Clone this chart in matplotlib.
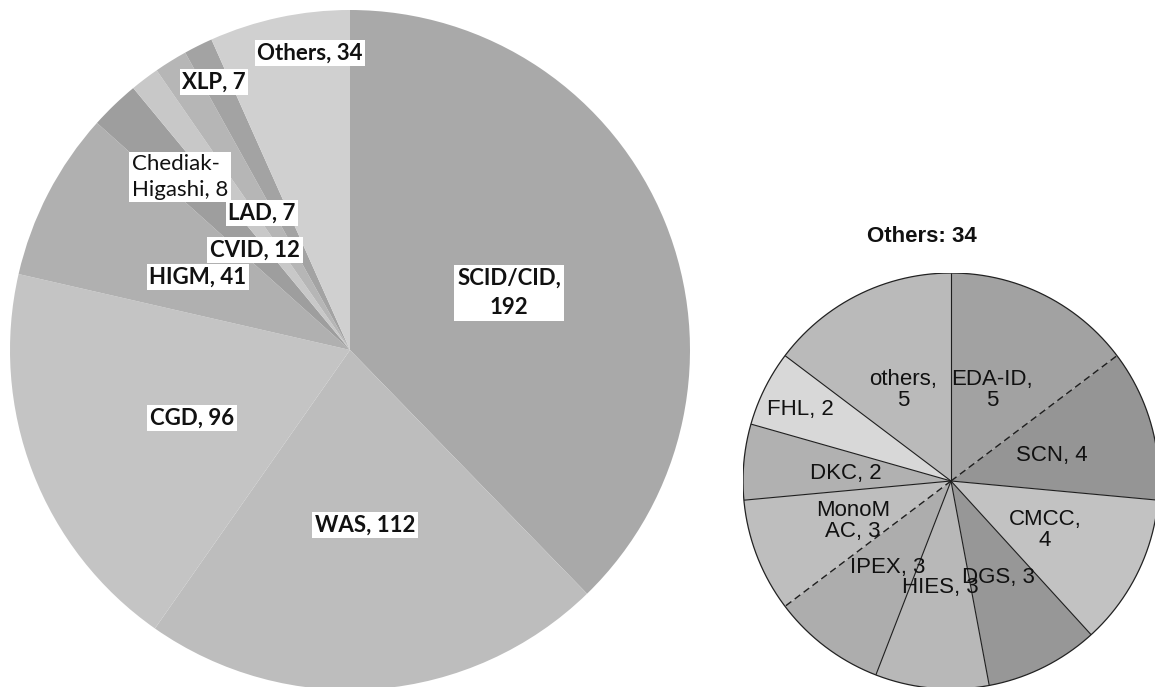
import numpy as np
import matplotlib
matplotlib.use("Agg")
import matplotlib.pyplot as plt

# main registry breakdown
main_names = ["SCID/CID", "WAS", "CGD", "HIGM", "CVID", "LAD",
              "Chediak-Higashi", "XLP", "Others"]
main_counts = [192, 112, 96, 41, 12, 7, 8, 7, 34]
main_labels = ["SCID/CID,\n192", "WAS, 112", "CGD, 96", "HIGM, 41", "CVID, 12",
               "LAD, 7", "Chediak-\nHigashi, 8", "XLP, 7", "Others, 34"]
main_colors = ["#a9a9a9", "#bdbdbd", "#c4c4c4", "#b0b0b0", "#9e9e9e",
               "#c8c8c8", "#b6b6b6", "#a3a3a3", "#d0d0d0"]

# the "Others" slice split up
sub_names = ["EDA-ID", "SCN", "CMCC", "DGS", "HIES", "IPEX", "MonoMAC",
             "DKC", "FHL", "others"]
sub_counts = [5, 4, 4, 3, 3, 3, 3, 2, 2, 5]
sub_labels = ["EDA-ID,\n5", "SCN, 4", "CMCC,\n4", "DGS, 3", "HIES, 3",
              "IPEX, 3", "MonoM\nAC, 3", "DKC, 2", "FHL, 2", "others,\n5"]
sub_colors = ["#a2a2a2", "#959595", "#c2c2c2", "#979797", "#b8b8b8",
              "#adadad", "#bebebe", "#b1b1b1", "#d8d8d8", "#bababa"]
dashed_after = ["EDA-ID", "IPEX"]

W, H = 1155, 687
fig = plt.figure(figsize=(W / 100, H / 100), dpi=100)
fig.patch.set_facecolor("white")


def px_axes(cx, cy, r):
    # square axes whose unit circle sits at pixel centre (cx, cy) with radius r
    return fig.add_axes([(cx - r) / W, (H - cy - r) / H, 2 * r / W, 2 * r / H])


# ---- big pie ----
ax1 = px_axes(350, 350, 340)
ax1.pie(main_counts, colors=main_colors, startangle=90, counterclock=False,
        wedgeprops=dict(linewidth=0))
ax1.set_xlim(-1, 1)
ax1.set_ylim(-1, 1)
ax1.set_axis_off()

# hand placed label spots (pixels)
main_pos = {"SCID/CID": (509, 293), "WAS": (365, 525), "CGD": (192, 418),
            "HIGM": (198, 277), "CVID": (255, 250), "LAD": (262, 213),
            "Chediak-Higashi": (180, 177), "XLP": (214, 82),
            "Others": (310, 53)}
for name, lab in zip(main_names, main_labels):
    px, py = main_pos[name]
    x, y = (px - 350) / 340, (350 - py) / 340
    light = name == "Chediak-Higashi"
    ax1.text(x, y, lab, ha="center", va="center",
             multialignment="left" if light else "center",
             family="Lato", fontsize=16, weight="normal" if light else "bold",
             color="#111111", linespacing=1.35 if light else 1.5,
             bbox=dict(boxstyle="square,pad=0.12", fc="white", ec="none"))

# ---- small pie ----
cx, cy, r = 951, 481, 208
ax2 = px_axes(cx, cy, r)
ax2.pie(sub_counts, colors=sub_colors, startangle=90, counterclock=False,
        wedgeprops=dict(linewidth=0))
ax2.set_xlim(-1, 1)
ax2.set_ylim(-1, 1)
ax2.set_axis_off()

# wedge borders, two of them dashed
cum = np.cumsum([0] + sub_counts)
for i, name in enumerate(sub_names):
    ang = np.deg2rad(90 - 360 * cum[i + 1] / cum[-1])
    dashed = name in dashed_after
    ax2.plot([0, np.cos(ang)], [0, np.sin(ang)], color="#1e1e1e",
             lw=1.0 if dashed else 0.8, ls=(0, (5, 3)) if dashed else "-",
             solid_capstyle="butt")
t = np.linspace(0, 2 * np.pi, 400)
ax2.plot(np.cos(t), np.sin(t), color="#222222", lw=0.9)

sub_pos = {"EDA-ID": (992, 390), "SCN": (1052, 455), "CMCC": (1045, 530),
           "DGS": (998, 577), "HIES": (940, 587), "IPEX": (888, 567),
           "MonoMAC": (853, 521), "DKC": (846, 473), "FHL": (800, 410),
           "others": (903, 390)}
for name, lab in zip(sub_names, sub_labels):
    px, py = sub_pos[name]
    ax2.text((px - cx) / r, (cy - py) / r, lab, ha="center", va="center",
             family="Liberation Sans", fontsize=16, color="#111111",
             linespacing=1.05)

fig.text(922 / W, 1 - 236 / H, "Others: 34", ha="center", va="center",
         family="Liberation Sans", fontsize=16, weight="bold", color="#111111")

fig.savefig("out.png", dpi=100, facecolor="white")
